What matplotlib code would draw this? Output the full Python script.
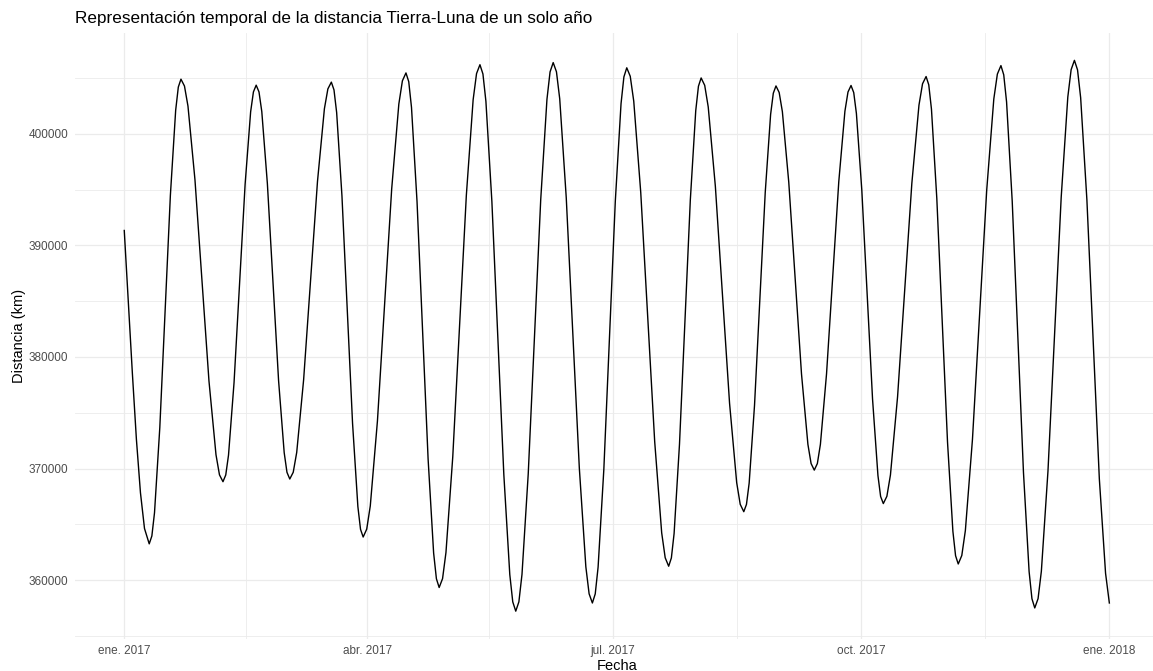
import matplotlib
matplotlib.use("Agg")
import matplotlib.pyplot as plt
import numpy as np
import pandas as pd

# days counted from 1 Jan 2017 00:00
dias = [0, 1.5, 3, 4.5, 6, 7.5, 9.25,
        10.23, 11.21, 13.17, 15.13, 17.09, 19.05, 20.03, 21.01,
        22.31, 23.61, 26.20, 28.80, 31.39, 33.99, 35.28, 36.58,
        37.61, 38.63, 40.68, 42.73, 44.78, 46.83, 47.86, 48.88,
        49.92, 50.96, 53.03, 55.11, 57.18, 59.26, 60.29, 61.33,
        62.61, 63.90, 66.46, 69.03, 71.60, 74.16, 75.45, 76.73,
        77.71, 78.70, 80.66, 82.63, 84.59, 86.56, 87.54, 88.52,
        89.84, 91.16, 93.81, 96.45, 99.09, 101.74, 103.06, 104.38,
        105.41, 106.43, 108.48, 110.53, 112.58, 114.63, 115.66, 116.68,
        117.94, 119.20, 121.72, 124.24, 126.75, 129.27, 130.53, 131.79,
        132.90, 134.00, 136.21, 138.43, 140.64, 142.85, 143.95, 145.06,
        146.22, 147.37, 149.68, 152.00, 154.31, 156.62, 157.77, 158.93,
        160.14, 161.35, 163.77, 166.19, 168.61, 171.03, 172.24, 173.45,
        174.51, 175.57, 177.70, 179.82, 181.94, 184.07, 185.13, 186.19,
        187.48, 188.78, 191.37, 193.96, 196.54, 199.13, 200.43, 201.72,
        202.72, 203.73, 205.73, 207.74, 209.74, 211.75, 212.75, 213.75,
        215.07, 216.38, 219.02, 221.65, 224.28, 226.92, 228.23, 229.55,
        230.54, 231.54, 233.53, 235.52, 237.50, 239.49, 240.49, 241.48,
        242.66, 243.85, 246.21, 248.58, 250.94, 253.31, 254.49, 255.67,
        256.81, 257.94, 260.21, 262.48, 264.75, 267.02, 268.16, 269.29,
        270.29, 271.28, 273.28, 275.27, 277.26, 279.26, 280.25, 281.25,
        282.57, 283.89, 286.53, 289.18, 291.82, 294.46, 295.78, 297.10,
        298.09, 299.09, 301.07, 303.06, 305.04, 307.03, 308.02, 309.01,
        310.33, 311.65, 314.28, 316.92, 319.56, 322.19, 323.51, 324.83,
        325.87, 326.92, 329.01, 331.10, 333.18, 335.27, 336.32, 337.36,
        338.59, 339.81, 342.26, 344.71, 347.16, 349.61, 350.84, 352.06,
        353.21, 354.37, 356.68, 358.99, 361.29, 363.60, 365.00]

distancia_km = [391345, 385030, 378570, 372620, 367830, 364620, 363242,
                363950, 366034, 373660, 384078, 394496, 402122, 404206, 404914,
                404300, 402496, 395890, 386865, 377841, 371235, 369431, 368817,
                369422, 371199, 377707, 386597, 395486, 401994, 403771, 404376,
                403776, 402010, 395546, 386717, 377887, 371424, 369658, 369058,
                369663, 371443, 377956, 386854, 395751, 402264, 404044, 404649,
                403955, 401916, 394450, 384252, 374053, 366588, 364549, 363855,
                364563, 366644, 374260, 384665, 395070, 402686, 404767, 405475,
                404690, 402383, 393938, 382401, 370865, 362420, 360113, 359328,
                360125, 362469, 371049, 382770, 394491, 403071, 405415, 406212,
                405379, 402929, 393961, 381709, 369458, 360490, 358040, 357207,
                358043, 360503, 369506, 381804, 394103, 403105, 405565, 406401,
                405577, 403154, 394285, 382170, 370054, 361186, 358763, 357939,
                358755, 361155, 369938, 381937, 393935, 402718, 405118, 405934,
                405174, 402939, 394760, 383585, 372411, 364232, 361997, 361237,
                361981, 364171, 372184, 383131, 394077, 402090, 404280, 405024,
                404363, 402418, 395300, 385575, 375851, 368733, 366788, 366127,
                366776, 368685, 375672, 385217, 394762, 401749, 403658, 404307,
                403721, 401999, 395694, 387082, 378469, 372165, 370443, 369857,
                370443, 372168, 378480, 387103, 395725, 402037, 403762, 404348,
                403711, 401836, 394975, 385601, 376228, 369367, 367492, 366855,
                367506, 369421, 376429, 386003, 395577, 402585, 404500, 405151,
                404408, 402222, 394223, 383294, 372366, 364367, 362181, 361438,
                362198, 364432, 372612, 383785, 394959, 403138, 405372, 406132,
                405305, 402873, 393973, 381813, 369654, 360754, 358322, 357495,
                358330, 360785, 369772, 382049, 394326, 403313, 405768, 406603,
                405752, 403250, 394094, 381584, 369075, 360600, 357940]

xticks = ["2017-01-01", "2017-04-01", "2017-07-01", "2017-10-01", "2018-01-01"]
xtick_labels = ["ene. 2017", "abr. 2017", "jul. 2017", "oct. 2017", "ene. 2018"]
xminor = ["2017-02-15", "2017-05-16", "2017-08-16", "2017-11-16"]
yticks = [360000, 370000, 380000, 390000, 400000]
yminor = [355000, 365000, 375000, 385000, 395000, 405000]

plt.rcParams['font.family'] = ['Liberation Sans', 'DejaVu Sans']

inicio = pd.Timestamp("2017-01-01")
fechas = inicio + pd.to_timedelta(dias, unit="D")

W, H = 1153, 671
fig = plt.figure(figsize=(W / 100, H / 100), dpi=100)
# panel in pixels: left 75, top 32.8, bottom 638.7, right ~1158 (cut by the image edge)
ax = fig.add_axes([75 / W, (H - 638.7) / H, 1083.6 / W, 605.9 / H])

ax.plot(fechas, distancia_km, color="black", linewidth=1.0)

# ggplot style 5% expansion
x0 = inicio
x1 = pd.Timestamp("2018-01-01")
pad = (x1 - x0) * 0.05
ax.set_xlim(x0 - pad, x1 + pad)
rango = max(distancia_km) - min(distancia_km)
ax.set_ylim(min(distancia_km) - 0.05 * rango, max(distancia_km) + 0.05 * rango)

ax.set_xticks(pd.to_datetime(xticks))
ax.set_xticklabels(xtick_labels)
ax.set_xticks(pd.to_datetime(xminor), minor=True)
ax.set_yticks(yticks)
ax.set_yticklabels([str(v) for v in yticks])
ax.set_yticks(yminor, minor=True)

ax.grid(which="major", color="#EBEBEB", linewidth=0.9)
ax.grid(which="minor", color="#EBEBEB", linewidth=0.6)
ax.set_axisbelow(True)
for s in ax.spines.values():
    s.set_visible(False)
ax.tick_params(which="both", length=0)
ax.tick_params(axis="y", labelsize=8.5, labelcolor="#4D4D4D", pad=5)
ax.tick_params(axis="x", labelsize=8.5, labelcolor="#4D4D4D", pad=4.5)

ax.set_xlabel("Fecha", fontsize=10.5, color="black")
ax.xaxis.set_label_coords(0.5, -0.033)
ax.set_ylabel("Distancia (km)", fontsize=10.5, color="black")
ax.yaxis.set_label_coords(-0.045, 0.5)

fig.text(75 / W, (H - 23) / H, "Representación temporal de la distancia Tierra-Luna de un solo año",
         fontsize=12.3, color="black", ha="left", va="baseline")

plt.savefig("out.png", dpi=100)
